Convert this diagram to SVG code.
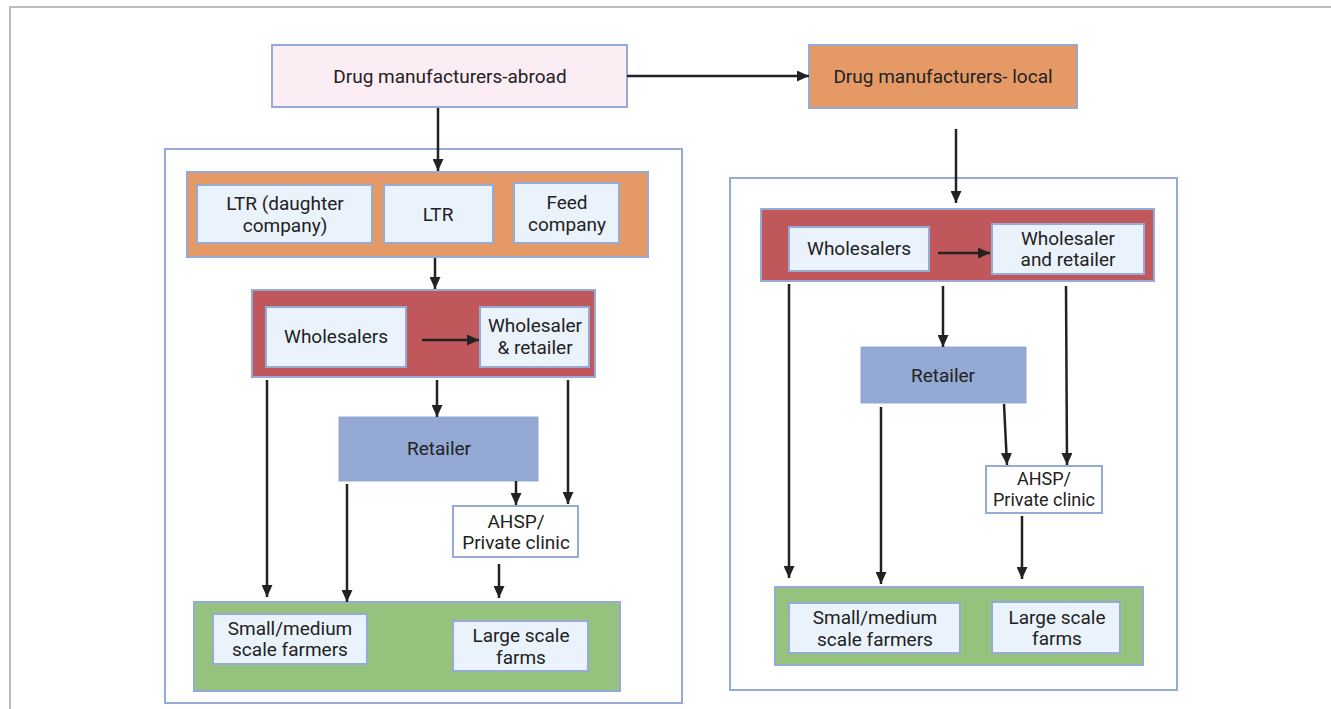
<svg xmlns="http://www.w3.org/2000/svg" width="1331" height="709" viewBox="0 0 1331 709">
<style>
text{font-family:Roboto,"Liberation Sans",sans-serif;font-size:19px;fill:#222;text-anchor:middle}
.b{stroke:#95aad6;stroke-width:2}
.in{fill:#eaf2fb}
.cont{fill:#fff}
.org{fill:#e59a66}
.red{fill:#c0575a}
.grn{fill:#95c37d}
.ret{fill:#93a9d3;stroke:#93a9d3;stroke-width:1}
.c line{stroke:#222;stroke-width:2.5;marker-end:url(#ah)}
</style>
<defs>
<marker id="ah" markerUnits="userSpaceOnUse" markerWidth="12" markerHeight="11" refX="12" refY="5.5" orient="auto">
<path d="M0,0 L12,5.5 L0,11 z" fill="#222"/>
</marker>
</defs>
<rect width="1331" height="709" fill="#fff"/>
<path d="M10,709 V7 H1331" fill="none" stroke="#bdbdbd" stroke-width="2"/>

<g id="left-container"><rect class="b cont" x="165" y="149" width="517" height="554"/></g>
<g id="right-container"><rect class="b cont" x="730" y="178" width="447" height="512"/></g>

<g id="abroad"><rect class="b" fill="#fcecf4" x="272" y="45" width="355" height="62"/><text x="450" y="83">Drug manufacturers-abroad</text></g>
<g id="local"><rect class="b org" x="809" y="45" width="268" height="63"/><text x="943" y="83">Drug manufacturers- local</text></g>

<g id="orange-band-left"><rect class="b org" x="187" y="172" width="461" height="85"/></g>
<g id="ltr-daughter"><rect class="b in" x="197" y="185" width="175" height="58"/><text x="285" y="210">LTR (daughter</text><text x="285" y="232">company)</text></g>
<g id="ltr"><rect class="b in" x="384" y="185" width="109" height="58"/><text x="438" y="221">LTR</text></g>
<g id="feed"><rect class="b in" x="514" y="183" width="105" height="60"/><text x="567" y="209">Feed</text><text x="567" y="231">company</text></g>

<g id="red-band-left"><rect class="b red" x="252" y="290" width="343" height="87"/></g>
<g id="wholesalers-left"><rect class="b in" x="266" y="307" width="140" height="60"/><text x="336" y="343">Wholesalers</text></g>
<g id="wr-left"><rect class="b in" x="480" y="307" width="109" height="60"/><text x="535" y="332">Wholesaler</text><text x="535" y="354">&amp; retailer</text></g>

<g id="retailer-left"><rect class="ret" x="339" y="417" width="199" height="64"/><text x="439" y="455">Retailer</text></g>
<g id="ahsp-left"><rect class="b cont" x="453" y="506" width="125" height="51"/><text x="516" y="528">AHSP/</text><text x="516" y="549">Private clinic</text></g>

<g id="green-band-left"><rect class="b grn" x="194" y="602" width="426" height="89"/></g>
<g id="small-left"><rect class="b in" x="213" y="614" width="154" height="50"/><text x="290" y="635">Small/medium</text><text x="290" y="656">scale farmers</text></g>
<g id="large-left"><rect class="b in" x="453" y="621" width="135" height="50"/><text x="521" y="642">Large scale</text><text x="521" y="664">farms</text></g>

<g id="red-band-right"><rect class="b red" x="761" y="209" width="393" height="72"/></g>
<g id="wholesalers-right"><rect class="b in" x="789" y="227" width="140" height="44"/><text x="859" y="255">Wholesalers</text></g>
<g id="wr-right"><rect class="b in" x="992" y="224" width="152" height="50"/><text x="1068" y="245">Wholesaler</text><text x="1068" y="266">and retailer</text></g>

<g id="retailer-right"><rect class="ret" x="861" y="347" width="165" height="56"/><text x="943" y="382">Retailer</text></g>
<g id="ahsp-right"><rect class="b cont" x="986" y="466" width="116" height="47"/><text x="1044" y="485" style="font-size:18px">AHSP/</text><text x="1044" y="506" style="font-size:18px">Private clinic</text></g>

<g id="green-band-right"><rect class="b grn" x="775" y="587" width="368" height="78"/></g>
<g id="small-right"><rect class="b in" x="789" y="603" width="171" height="50"/><text x="875" y="624">Small/medium</text><text x="875" y="646">scale farmers</text></g>
<g id="large-right"><rect class="b in" x="992" y="602" width="128" height="51"/><text x="1057" y="624">Large scale</text><text x="1057" y="645">farms</text></g>

<g id="connectors" class="c">
<line x1="627" y1="76" x2="809" y2="76"/>
<line x1="438" y1="108" x2="438" y2="171"/>
<line x1="435" y1="258" x2="435" y2="289"/>
<line x1="422" y1="340" x2="479" y2="340"/>
<line x1="267" y1="380" x2="267" y2="597"/>
<line x1="437" y1="380" x2="437" y2="417"/>
<line x1="568" y1="380" x2="568" y2="504"/>
<line x1="347" y1="484" x2="347" y2="602"/>
<line x1="516" y1="481" x2="516" y2="505"/>
<line x1="499" y1="564" x2="499" y2="598"/>
<line x1="956" y1="129" x2="956" y2="203"/>
<line x1="938" y1="253" x2="990" y2="253"/>
<line x1="789" y1="284" x2="789" y2="578"/>
<line x1="943" y1="286" x2="943" y2="347"/>
<line x1="1066" y1="286" x2="1067" y2="465"/>
<line x1="881" y1="407" x2="881" y2="584"/>
<line x1="1004" y1="404" x2="1007" y2="465"/>
<line x1="1022" y1="516" x2="1022" y2="579"/>
</g>
</svg>
